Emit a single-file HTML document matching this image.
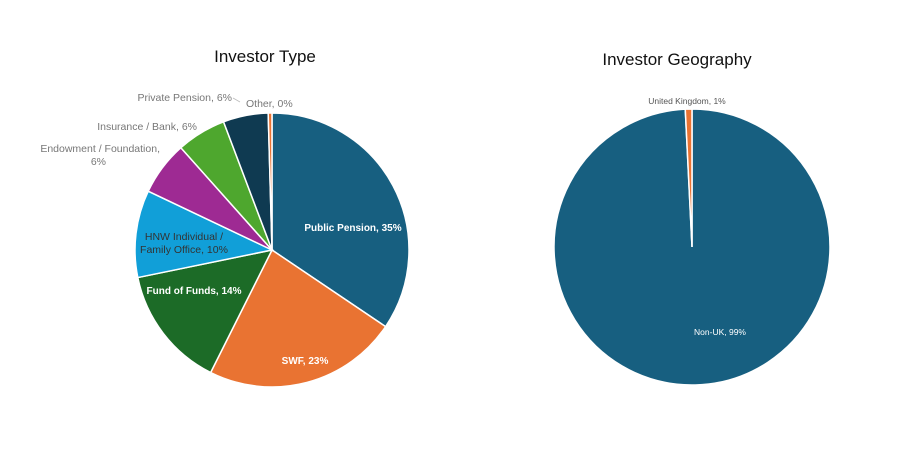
<!DOCTYPE html>
<html><head><style>
body{margin:0;background:#fff;}
svg text{font-family:"Liberation Sans",sans-serif;}
</style></head><body>
<svg id="s" width="906" height="449" xmlns="http://www.w3.org/2000/svg">
<text x="265" y="62" font-size="17" text-anchor="middle" fill="#111">Investor Type</text>
<text x="677" y="65" font-size="17" text-anchor="middle" fill="#111">Investor Geography</text>
<g id="p1"></g><g id="p2"></g>
<text x="353" y="231" font-size="10" font-weight="bold" fill="#fff" text-anchor="middle">Public Pension, 35%</text>
<text x="305" y="364" font-size="10" font-weight="bold" fill="#fff" text-anchor="middle">SWF, 23%</text>
<text x="194" y="294" font-size="10" font-weight="bold" fill="#fff" text-anchor="middle">Fund of Funds, 14%</text>
<text x="184" y="240" font-size="10.5" fill="#333" text-anchor="middle">HNW Individual /</text>
<text x="184" y="253" font-size="10.5" fill="#333" text-anchor="middle">Family Office, 10%</text>
<text x="160" y="152" font-size="10.5" fill="#777" text-anchor="end">Endowment / Foundation,</text>
<text x="106" y="165" font-size="10.5" fill="#777" text-anchor="end">6%</text>
<text x="197" y="130" font-size="10.5" fill="#777" text-anchor="end">Insurance / Bank, 6%</text>
<text x="232" y="101" font-size="10.5" fill="#777" text-anchor="end">Private Pension, 6%</text>
<text x="246" y="107" font-size="10.5" fill="#777">Other, 0%</text>
<line x1="233" y1="98" x2="240" y2="102" stroke="#bbb" stroke-width="0.8"/>
<text x="687" y="104" font-size="8.5" fill="#555" text-anchor="middle">United Kingdom, 1%</text>
<text x="720" y="335" font-size="8.5" fill="#fff" text-anchor="middle">Non-UK, 99%</text>
</svg>
<script>
function pie(g,cx,cy,r,sl){var a0=0;var h='';sl.forEach(function(s){var a1=s[0]*Math.PI/180;var b=a0*Math.PI/180;
var x0=cx+r*Math.sin(b),y0=cy-r*Math.cos(b),x1=cx+r*Math.sin(a1),y1=cy-r*Math.cos(a1);
var l=(s[0]-a0)>180?1:0;h+='<path d="M'+cx+' '+cy+' L'+x0+' '+y0+' A'+r+' '+r+' 0 '+l+' 1 '+x1+' '+y1+' Z" fill="'+s[1]+'" stroke="#fff" stroke-width="1.5"/>';a0=s[0];});
document.getElementById(g).innerHTML=h;}
pie('p1',272,250,137,[[124,'#175f80'],[206.6,'#e97332'],[258.4,'#1c6b27'],[295.4,'#119fd8'],[318.3,'#9e2a93'],[339.3,'#4ea72e'],[358.4,'#0f3a51'],[360,'#e97332']]);
pie('p2',692,247,138,[[357.2,'#175f80'],[360,'#e97332']]);
</script>
</body></html>
